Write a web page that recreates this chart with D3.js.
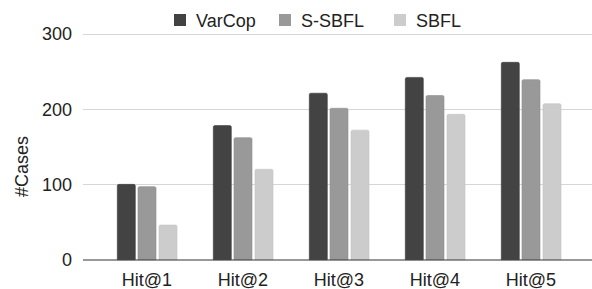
<!DOCTYPE html>
<html>
<head>
<meta charset="utf-8">
<script src="https://cdn.jsdelivr.net/npm/d3@7"></script>
<style>
html,body{margin:0;padding:0;background:#fff;}
svg{display:block;font-family:"Liberation Sans",Arial,sans-serif;}
</style>
</head>
<body>
<svg id="chart" width="592" height="289"></svg>
<script>
const categories = ["Hit@1","Hit@2","Hit@3","Hit@4","Hit@5"];
const seriesNames = ["VarCop","S-SBFL","SBFL"];
const varcop = [100,178,221,242,262];
const ssbfl = [97,162,201,218,239];
const sbfl = [46,120,172,193,207];
const yTicks = [0,100,200,300];
const colors = ["#434343","#999999","#cccccc"];
const strokes = ["#3a3a3a","#8f8f8f","#c4c4c4"];

const seriesValues = [varcop, ssbfl, sbfl];
const svg = d3.select("#chart");
const fs = 18;

const y = d3.scaleLinear().domain([0,300]).range([259.7,33.7]);
const x0 = d3.scaleBand().domain(categories).range([99,579]).paddingInner(0).paddingOuter(0);
const x1 = d3.scaleBand().domain(seriesNames).range([-30,33]);

// gridlines
svg.append("g").selectAll("line").data(yTicks.filter(d=>d>0)).join("line")
  .attr("x1",83).attr("x2",592)
  .attr("y1",d=>Math.round(y(d))+0.5).attr("y2",d=>Math.round(y(d))+0.5)
  .attr("stroke","#d6d6d6").attr("stroke-width",1);

// y tick labels
svg.append("g").selectAll("text").data(yTicks).join("text")
  .attr("x",72).attr("y",d=>y(d)).attr("dy","0.36em")
  .attr("text-anchor","end").attr("font-size",fs).attr("fill","#222")
  .text(d=>d);

// y title
svg.append("text").attr("transform","translate(28,166.5) rotate(-90)")
  .attr("text-anchor","middle").attr("font-size",fs).attr("fill","#222").text("#Cases");

// bars
const bw = 18;
const r = 1.5;
function barPath(x, yTop, w, yBase){
  const h = yBase - yTop;
  const rr = Math.min(r, h/2);
  return `M${x},${yBase}V${yTop+rr}Q${x},${yTop} ${x+rr},${yTop}H${x+w-rr}Q${x+w},${yTop} ${x+w},${yTop+rr}V${yBase}Z`;
}
const offsets = [-29.7, -9, 12];
const g = svg.append("g");
seriesNames.forEach((s,si)=>{
  g.append("g").selectAll("path").data(seriesValues[si]).join("path")
    .attr("d",(v,i)=>barPath(x0(categories[i]) + x0.bandwidth()/2 + offsets[si], y(v), bw, y(0)))
    .attr("fill",colors[si]).attr("stroke",strokes[si]).attr("stroke-width",0.6);
});

// baseline axis
svg.append("line").attr("x1",83).attr("x2",592).attr("y1",260).attr("y2",260)
  .attr("stroke","#333").attr("stroke-width",1.2);

// x labels
svg.append("g").selectAll("text").data(categories).join("text")
  .attr("x",d=>x0(d)+x0.bandwidth()/2).attr("y",286)
  .attr("text-anchor","middle").attr("font-size",fs).attr("fill","#222")
  .text(d=>d);

// legend
const legendX = [174,279,394];
const lg = svg.append("g");
seriesNames.forEach((s,si)=>{
  lg.append("rect").attr("x",legendX[si]).attr("y",14).attr("width",12).attr("height",12).attr("fill",colors[si]);
  lg.append("text").attr("x",legendX[si]+22).attr("y",26.5).attr("font-size",fs).attr("fill","#222").text(s);
});
</script>
</body>
</html>
